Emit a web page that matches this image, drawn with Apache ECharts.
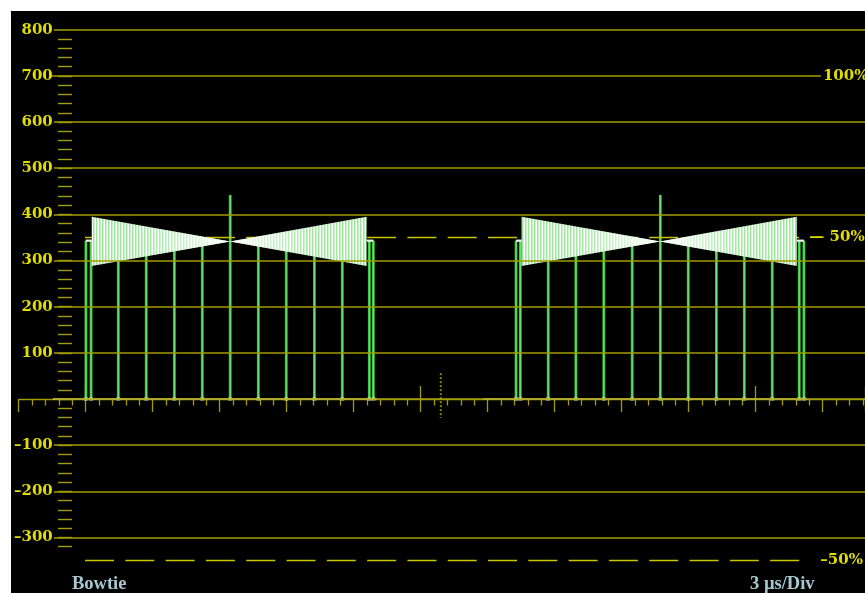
<!DOCTYPE html>
<html>
<head>
<meta charset="utf-8">
<script src="https://cdn.jsdelivr.net/npm/echarts@6/dist/echarts.min.js"></script>
<style>
  html, body { margin: 0; padding: 0; background: #ffffff; }
  #chart { position: absolute; left: 11px; top: 11px; width: 854px; height: 582px; background: #000; }
</style>
</head>
<body>
<div id="chart"></div>
<script>
// ---------------- DATA ----------------
// time axis in microseconds (3 µs per major division), amplitude in mV
const yMin = -300, yMax = 800, yStep = 100;        // left scale labels
const minorStep = 20;                               // small graticule ticks
const refLevels = [700, 350, -350];                 // 100 %, 50 %, -50 %
const refLabels = ['100%', '\u2014 50%', '\u201350%'];
const refSpan = [-0.03, 32.4];                      // µs, extent of the dashed 50 % lines
const fullSpan = [-1.51, 32.92];                    // µs, extent of the solid 100 % line
const cursorT = [15.9, 15.9];                       // dotted cursor (µs)
const cursorV = [56, -41];                          // dotted cursor (mV)

// white trace at blanking level (µs start, µs end, mV)
const baselineSpans = [[-1.46, 13.03, 0], [17.80, 32.31, 0]];
// flat pedestal just before / after each bowtie burst
const pedestalSpans = [[0.01, 0.27, 343], [12.58, 12.88, 343], [19.27, 19.52, 343], [31.84, 32.16, 343]];

// bowtie bursts: start, centre, end (µs)
const bowtieTimes = [[0.27, 6.47, 12.58], [19.52, 25.72, 31.84]];
const bowtieUpper = [395, 341, 395];                // mV at start, centre, end
const bowtieLower = [288, 341, 288];

// green marker / edge verticals (µs) and their tops (mV)
const markerTimes = [0.01, 0.24, 1.46, 2.71, 3.97, 5.22, 6.47, 7.73, 8.98, 10.24, 11.49, 12.70, 12.88,
                     19.27, 19.46, 20.71, 21.95, 23.20, 24.47, 25.73, 26.98, 28.24, 29.49, 30.74, 31.95, 32.16];
const markerTops  = [343, 343, 343, 343, 343, 343, 442, 343, 343, 343, 343, 343, 343,
                     343, 343, 343, 343, 343, 343, 442, 343, 343, 343, 343, 343, 343];

const xMajor = 3, xMinorSplit = 5, xLongStep = 15;
const bottomLeftText = 'Bowtie';
const bottomRightText = '3 \u00b5s/Div';

// ---------------- LAYOUT (chart pixels) ----------------
const W = 854, H = 582;
const PX_PER_US = 22.333;
const X0 = 74.7;                // chart x of t = 0
const Y_TOP = 18.7, Y_BOT = 526.5;  // chart y of yMax / yMin
const PX_PER_MV = (Y_BOT - Y_TOP) / (yMax - yMin);
const xTickStart = -3;
const xMax = (W - X0) / PX_PER_US;
const dataMin = -400;           // data grid extends below the -50 % line

const GRID_COL = '#a39c00';
const LABEL_COL = '#e0dc00';
const FONT = 'DejaVu Serif';
const TEXT_FONT = 'Liberation Serif';

const yTickVals = [];
for (let v = yMin; v <= yMax; v += yStep) yTickVals.push(v);
const splitColors = yTickVals.map((v) => (v === refLevels[0] ? 'rgba(0,0,0,0)' : GRID_COL));

const chart = echarts.init(document.getElementById('chart'), null, { renderer: 'canvas' });

// stripe pattern for the dense sweep inside the bowtie
const pc = document.createElement('canvas');
pc.width = 3; pc.height = 2;
const pctx = pc.getContext('2d');
['#ffffff', '#9de69d', '#c8f4c8'].forEach((c, i) => { pctx.fillStyle = c; pctx.fillRect(i, 0, 1, 2); });
const stripe = { image: pc, repeat: 'repeat' };
const whiten = new echarts.graphic.LinearGradient(0, 0, 1, 0, [
  { offset: 0, color: 'rgba(255,255,255,0)' },
  { offset: 0.2, color: 'rgba(255,255,255,0.05)' },
  { offset: 0.5, color: 'rgba(255,255,255,0.95)' },
  { offset: 0.8, color: 'rgba(255,255,255,0.05)' },
  { offset: 1, color: 'rgba(255,255,255,0)' }
]);

const mvTop = (v) => Y_TOP + (yMax - v) * PX_PER_MV;
const hidden = { show: false };
const labelFont = { color: LABEL_COL, fontFamily: FONT, fontSize: 15, fontWeight: 'bold' };

const option = {
  backgroundColor: '#000',
  animation: false,
  grid: [
    { left: 41, right: 0, top: Y_TOP, bottom: H - Y_BOT },                                           // 0 labels + gridlines
    { left: 47, width: 20, top: mvTop(yMax - minorStep), bottom: H - mvTop(yMin - minorStep) },       // 1 minor ticks
    { left: X0 + xTickStart * PX_PER_US, right: 0, top: Y_TOP, bottom: H - mvTop(dataMin) },         // 2 data + ticks
    { left: X0, right: 0, top: Y_TOP, bottom: H - Y_BOT }                                            // 3 long up ticks
  ],
  xAxis: [
    { gridIndex: 0, type: 'value', min: 0, max: 1, show: false },
    { gridIndex: 1, type: 'value', min: 0, max: 1, show: false },
    {
      gridIndex: 2, type: 'value', min: xTickStart, max: xMax, interval: xMajor,
      axisLine: { onZero: true, lineStyle: { color: GRID_COL, width: 1.3 } },
      axisTick: { show: true, length: 13, lineStyle: { color: GRID_COL, width: 1.3 } },
      minorTick: { show: true, splitNumber: xMinorSplit, length: 6.5, lineStyle: { color: GRID_COL, width: 1.3 } },
      axisLabel: hidden, splitLine: hidden, minorSplitLine: hidden
    },
    {
      gridIndex: 3, type: 'value', min: 0, max: xMax, interval: xLongStep,
      axisLine: { show: false, onZero: true },
      axisTick: { show: true, inside: true, length: 13, lineStyle: { color: GRID_COL, width: 1.3 } },
      axisLabel: hidden, splitLine: hidden
    }
  ],
  yAxis: [
    {
      gridIndex: 0, type: 'value', min: yMin, max: yMax, interval: yStep, z: 10,
      axisLine: hidden, axisTick: hidden,
      axisLabel: Object.assign({ margin: 1,
        formatter: (v) => (v === 0 ? '' : v < 0 ? '\u2013' + (-v) : String(v)) }, labelFont),
      splitLine: { show: true, lineStyle: { color: splitColors, width: 1.5 } }
    },
    {
      gridIndex: 1, type: 'value', min: yMin - minorStep, max: yMax - minorStep, interval: minorStep,
      axisLine: hidden, axisLabel: hidden, splitLine: hidden,
      axisTick: { show: true, inside: true, length: 14, lineStyle: { color: GRID_COL, width: 1.4 } }
    },
    { gridIndex: 2, type: 'value', min: dataMin, max: yMax, show: false },
    { gridIndex: 3, type: 'value', min: yMin, max: yMax, show: false }
  ],
  graphic: [
    { type: 'text', left: 61, top: 564, style: { text: bottomLeftText, fill: '#a6c8d0', font: 'bold 18.5px "' + TEXT_FONT + '"' } },
    { type: 'text', left: 739, top: 564, style: { text: bottomRightText, fill: '#a6c8d0', font: 'bold 18.5px "' + TEXT_FONT + '"' } }
  ],
  series: [
    {
      name: 'cursor', type: 'line', xAxisIndex: 2, yAxisIndex: 2, z: 1,
      data: cursorT.map((t, i) => [t, cursorV[i]]), symbol: 'none',
      lineStyle: { color: '#8c8600', width: 2, type: [2, 2] }
    },
    {
      name: 'markers', type: 'custom', xAxisIndex: 2, yAxisIndex: 2, z: 3,
      data: markerTimes.map((t, i) => [t, markerTops[i]]),
      renderItem: (params, api) => {
        const a = api.coord([api.value(0), 0]);
        const b = api.coord([api.value(0), api.value(1)]);
        return {
          type: 'group', children: [
            { type: 'line', shape: { x1: a[0], y1: a[1], x2: b[0], y2: b[1] }, style: { stroke: '#36c236', lineWidth: 2.8 } },
            { type: 'line', shape: { x1: a[0], y1: a[1], x2: b[0], y2: b[1] }, style: { stroke: '#78e478', lineWidth: 1 } }
          ]
        };
      }
    },
    {
      name: 'trace', type: 'custom', xAxisIndex: 2, yAxisIndex: 2, z: 4,
      data: baselineSpans.concat(pedestalSpans),
      renderItem: (params, api) => {
        const a = api.coord([api.value(0), api.value(2)]);
        const b = api.coord([api.value(1), api.value(2)]);
        return { type: 'line', shape: { x1: a[0], y1: a[1], x2: b[0], y2: b[1] },
                 style: { stroke: '#f0f0f0', lineWidth: api.value(2) === 0 ? 1.6 : 2.2 } };
      }
    },
    {
      name: 'marker feet', type: 'scatter', xAxisIndex: 2, yAxisIndex: 2, z: 5,
      data: markerTimes.map((t) => [t, 0]), symbol: 'rect', symbolSize: [4, 3],
      itemStyle: { color: '#eaffea' }
    },
    {
      name: 'bowtie', type: 'custom', xAxisIndex: 2, yAxisIndex: 2, z: 6,
      data: bowtieTimes,
      renderItem: (params, api) => {
        const t = [api.value(0), api.value(1), api.value(2)];
        const pts = [
          [t[0], bowtieUpper[0]], [t[1], bowtieUpper[1]], [t[2], bowtieUpper[2]],
          [t[2], bowtieLower[2]], [t[1], bowtieLower[1]], [t[0], bowtieLower[0]]
        ].map((p) => api.coord(p));
        return {
          type: 'group', children: [
            { type: 'polygon', shape: { points: pts }, style: { fill: stripe } },
            { type: 'polygon', shape: { points: pts }, style: { fill: whiten } }
          ]
        };
      }
    },
    {
      name: 'refs', type: 'line', xAxisIndex: 2, yAxisIndex: 2, z: 20, data: [], clip: false,
      markLine: {
        silent: true, symbol: 'none', animation: false,
        data: refLevels.map((lv, i) => {
          const span = i === 0 ? fullSpan : refSpan;
          return [
            {
              coord: [span[0], lv],
              lineStyle: i === 0 ? { color: GRID_COL, width: 1.5, type: 'solid' }
                                 : { color: '#c8c400', width: 1.3, type: [29, 11.3] },
              label: Object.assign({
                show: true, position: 'end', formatter: refLabels[i],
                distance: i === 0 ? 2 : (i === 1 ? 0 : 11)
              }, labelFont)
            },
            { coord: [span[1], lv] }
          ];
        })
      }
    }
  ]
};
chart.setOption(option);
</script>
</body>
</html>
